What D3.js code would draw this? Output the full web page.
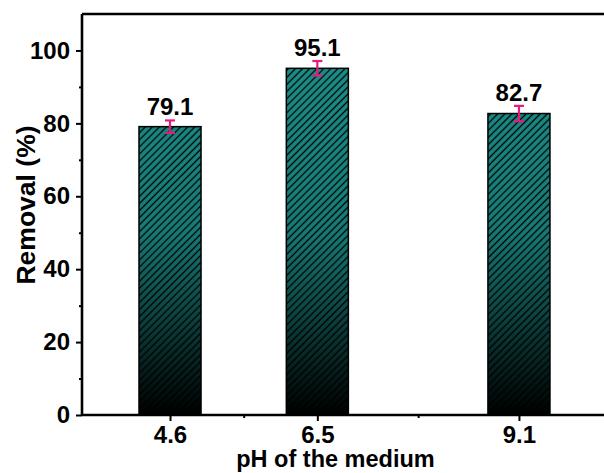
<!DOCTYPE html>
<html>
<head>
<meta charset="utf-8">
<script src="https://cdn.jsdelivr.net/npm/d3@7"></script>
<style>
  html, body { margin: 0; padding: 0; background: #fff; }
  svg { display: block; font-family: "Liberation Sans", Arial, sans-serif; font-weight: bold; }
</style>
</head>
<body>
<svg id="chart" width="604" height="473"></svg>
<script>
// pH values, removal (%) and error
const phValues = [4.6, 6.5, 9.1];
const removal = [79.1, 95.1, 82.7];
const errors = [1.7, 2.0, 2.1];
const yTicks = [0, 20, 40, 60, 80, 100];
const yMinorTicks = [10, 30, 50, 70, 90];
const xMinorTicks = [5.55, 7.8];

const svg = d3.select("#chart");
const mLeft = 82, mRight = 612, mTop = 14, mBottom = 415;

const x = d3.scaleLinear().domain([3.465, 10.3]).range([mLeft, mRight]);
const y = d3.scaleLinear().domain([0, 110]).range([mBottom, mTop]);
const barW = x(0.8) - x(0);

const defs = svg.append("defs");
const grad = defs.append("linearGradient").attr("id", "barGrad")
    .attr("gradientUnits", "userSpaceOnUse")
    .attr("x1", 0).attr("x2", 0).attr("y1", y(100)).attr("y2", y(0));
grad.append("stop").attr("offset", "0").attr("stop-color", "#1b918b");
grad.append("stop").attr("offset", "0.5").attr("stop-color", "#167c77");
grad.append("stop").attr("offset", "1").attr("stop-color", "#000000");

const hatch = defs.append("pattern").attr("id", "hatch")
    .attr("patternUnits", "userSpaceOnUse")
    .attr("width", 5).attr("height", 5)
    .attr("patternTransform", "rotate(45)");
hatch.append("line").attr("x1", 2.5).attr("x2", 2.5).attr("y1", 0).attr("y2", 5)
    .attr("stroke", "#000").attr("stroke-width", 1.3);

// bars
const bars = svg.append("g");
bars.selectAll(".bar").data(phValues).enter().append("rect").attr("class", "bar")
    .attr("x", d => x(d) - barW / 2).attr("width", barW)
    .attr("y", (d, i) => y(removal[i])).attr("height", (d, i) => y(0) - y(removal[i]))
    .attr("fill", "url(#barGrad)");
bars.selectAll(".hatch").data(phValues).enter().append("rect").attr("class", "hatch")
    .attr("x", d => x(d) - barW / 2).attr("width", barW)
    .attr("y", (d, i) => y(removal[i])).attr("height", (d, i) => y(0) - y(removal[i]))
    .attr("fill", "url(#hatch)").attr("stroke", "#000").attr("stroke-width", 1.5);

// error bars
const err = svg.append("g").attr("stroke", "#e8187c").attr("stroke-width", 2.2);
phValues.forEach((d, i) => {
    const cx = x(d);
    err.append("line").attr("x1", cx).attr("x2", cx)
        .attr("y1", y(removal[i] + errors[i])).attr("y2", y(removal[i] - errors[i]));
    [removal[i] + errors[i], removal[i] - errors[i]].forEach(v => {
        err.append("line").attr("x1", cx - 5).attr("x2", cx + 5).attr("y1", y(v)).attr("y2", y(v));
    });
});

// value labels
svg.append("g").selectAll("text").data(phValues).enter().append("text")
    .attr("x", d => x(d)).attr("y", (d, i) => y(removal[i] + errors[i]) - 5)
    .attr("text-anchor", "middle").attr("font-size", 24).attr("fill", "#000")
    .text((d, i) => removal[i].toFixed(1));

// axes
svg.append("g").attr("transform", `translate(${mLeft},0)`)
    .call(d3.axisLeft(y).tickValues(yTicks).tickSize(6).tickPadding(6));
svg.append("g").attr("transform", `translate(${mLeft},0)`)
    .call(d3.axisLeft(y).tickValues(yMinorTicks).tickSize(3).tickFormat(""));
svg.append("g").attr("transform", `translate(0,${mBottom})`)
    .call(d3.axisBottom(x).tickValues(phValues).tickSize(6).tickPadding(5).tickFormat(d3.format(".1f")));
svg.append("g").attr("transform", `translate(0,${mBottom})`)
    .call(d3.axisBottom(x).tickValues(xMinorTicks).tickSize(3).tickFormat(""));

svg.selectAll(".domain").remove();
svg.selectAll(".tick line").attr("stroke", "#000").attr("stroke-width", 2);
svg.selectAll(".tick text").attr("font-size", 24).attr("font-family", "Liberation Sans, Arial, sans-serif")
    .attr("font-weight", "bold").attr("fill", "#000");

// frame lines
const frame = svg.append("g").attr("stroke", "#000").attr("stroke-width", 2.6).attr("fill", "none");
frame.append("line").attr("x1", mLeft).attr("x2", 604).attr("y1", mBottom).attr("y2", mBottom);
frame.append("line").attr("x1", mLeft).attr("x2", 604).attr("y1", mTop).attr("y2", mTop);
frame.append("line").attr("x1", mLeft).attr("x2", mLeft).attr("y1", mTop).attr("y2", mBottom);

// axis titles
svg.append("text").attr("x", (170 + 519) / 2 - 9).attr("y", 467)
    .attr("text-anchor", "middle").attr("font-size", 23.5).text("pH of the medium");
svg.append("text").attr("transform", "translate(35,205) rotate(-90)")
    .attr("text-anchor", "middle").attr("font-size", 26.5).text("Removal (%)");
</script>
</body>
</html>
